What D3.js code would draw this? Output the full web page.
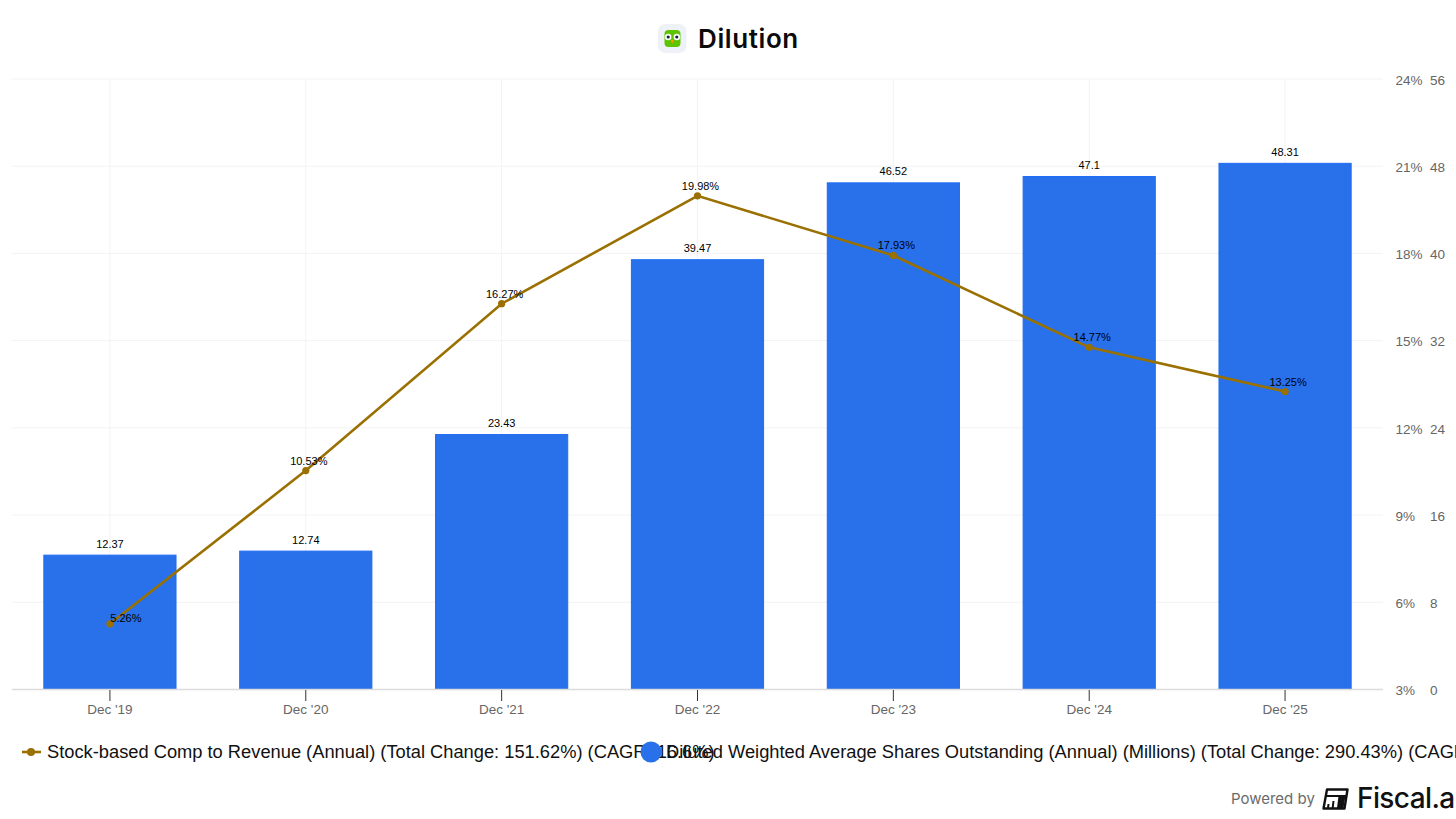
<!DOCTYPE html>
<html>
<head>
<meta charset="utf-8">
<script src="https://cdn.jsdelivr.net/npm/d3@7"></script>
<style>
html, body { margin: 0; padding: 0; background: #fff; overflow: hidden; }
</style>
</head>
<body>
<div id="vis"></div>
<script>
const categories = ["Dec '19", "Dec '20", "Dec '21", "Dec '22", "Dec '23", "Dec '24", "Dec '25"]
const shares = [12.37, 12.74, 23.43, 39.47, 46.52, 47.1, 48.31]
const sbc = [5.26, 10.53, 16.27, 19.98, 17.93, 14.77, 13.25]
const shareTicks = [0, 8, 16, 24, 32, 40, 48, 56]
const pctTicks = [3, 6, 9, 12, 15, 18, 21, 24]
const legendLine = "Stock-based Comp to Revenue (Annual) (Total Change: 151.62%) (CAGR: 16.6%)"
const legendBar = "Diluted Weighted Average Shares Outstanding (Annual) (Millions) (Total Change: 290.43%) (CAGR: 25.5%)"

const font = "'Liberation Sans', Arial, sans-serif"
const gold = "#9a7000"
const blue = "#2871eb"

let svg = d3.select("#vis").append("svg")
    .attr("width", 1456)
    .attr("height", 819)
    .attr("font-family", font)

let x = d3.scaleBand().domain(categories).range([12, 1383]).paddingInner(0.32).paddingOuter(0.16)
let yBar = d3.scaleLinear().domain([0, 56]).range([689.5, 79])
let yPct = d3.scaleLinear().domain([3, 24]).range([689.5, 79])
let cx = d => x(d) + x.bandwidth() / 2

// grid
let grid = svg.append("g").attr("stroke", "#f3f3f3").attr("stroke-width", 1)
grid.selectAll("line.h")
    .data(pctTicks.slice(1))
    .join("line")
    .attr("class", "h")
    .attr("x1", 12).attr("x2", 1383)
    .attr("y1", d => yPct(d)).attr("y2", d => yPct(d))
grid.selectAll("line.v")
    .data(categories)
    .join("line")
    .attr("class", "v")
    .attr("x1", cx).attr("x2", cx)
    .attr("y1", 79).attr("y2", 689.5)

// bars
svg.append("g").selectAll("rect")
    .data(categories)
    .join("rect")
    .attr("x", d => x(d) + 0.5)
    .attr("width", x.bandwidth() - 1)
    .attr("y", (d, i) => yBar(shares[i]) + 0.5)
    .attr("height", (d, i) => yBar(0) - yBar(shares[i]) - 0.5)
    .attr("fill", blue)
    .attr("stroke", "#1f6bf5")
    .attr("stroke-width", 1)

// x axis
svg.append("line")
    .attr("x1", 12).attr("x2", 1383)
    .attr("y1", 689.5).attr("y2", 689.5)
    .attr("stroke", "#dcdcdc")
    .attr("stroke-width", 1.5)

let xAxis = svg.append("g")
    .attr("transform", "translate(0,690)")
    .call(d3.axisBottom(x).tickSize(11).tickPadding(3))
xAxis.select(".domain").remove()
xAxis.selectAll("line").attr("stroke", "#333").attr("stroke-width", 1)
xAxis.selectAll("text")
    .attr("font-family", font)
    .attr("font-size", 13.5)
    .attr("fill", "#666")

// right axes
let pctAxis = svg.append("g")
    .attr("transform", "translate(1395.5,1)")
    .call(d3.axisRight(yPct).tickValues(pctTicks).tickFormat(d => d + "%").tickSize(0).tickPadding(0))
pctAxis.select(".domain").remove()
pctAxis.selectAll("text")
    .attr("font-family", font).attr("font-size", 13.5).attr("fill", "#666")

let barAxis = svg.append("g")
    .attr("transform", "translate(1430,1)")
    .call(d3.axisRight(yBar).tickValues(shareTicks).tickSize(0).tickPadding(0))
barAxis.select(".domain").remove()
barAxis.selectAll("text")
    .attr("font-family", font).attr("font-size", 13.5).attr("fill", "#666")

// line
let line = d3.line()
    .x((d, i) => cx(categories[i]))
    .y(d => yPct(d))

svg.append("path")
    .datum(sbc)
    .attr("d", line)
    .attr("fill", "none")
    .attr("stroke", gold)
    .attr("stroke-width", 2.6)

svg.append("g").selectAll("circle")
    .data(sbc)
    .join("circle")
    .attr("cx", (d, i) => cx(categories[i]))
    .attr("cy", d => yPct(d))
    .attr("r", 3.6)
    .attr("fill", gold)

// value labels
svg.append("g").selectAll("text")
    .data(shares)
    .join("text")
    .attr("x", (d, i) => cx(categories[i]))
    .attr("y", d => yBar(d) - 7)
    .attr("text-anchor", "middle")
    .attr("font-size", 11)
    .attr("fill", "#000")
    .text(d => d)

// first label sits beside its point, the rest above
svg.append("g").selectAll("text")
    .data(sbc)
    .join("text")
    .attr("x", (d, i) => cx(categories[i]) + (i == 0 ? 16 : 3))
    .attr("y", (d, i) => yPct(d) + (i == 0 ? -2 : -6))
    .attr("text-anchor", "middle")
    .attr("font-size", 11)
    .attr("fill", "#000")
    .text(d => d + "%")

// legend
let lg = svg.append("g").attr("font-size", 18.3).attr("fill", "#111")
lg.append("line").attr("x1", 22).attr("x2", 41).attr("y1", 752).attr("y2", 752)
    .attr("stroke", gold).attr("stroke-width", 2.6)
lg.append("circle").attr("cx", 31).attr("cy", 752).attr("r", 4).attr("fill", gold)
lg.append("text").attr("x", 47).attr("y", 758).text(legendLine)
lg.append("text").attr("x", 666).attr("y", 758).text(legendBar)
lg.append("circle").attr("cx", 651).attr("cy", 752).attr("r", 10.5).attr("fill", blue)

// title with logo
let logo = svg.append("g").attr("transform", "translate(658,24)")
logo.append("rect").attr("width", 28.5).attr("height", 29).attr("rx", 7).attr("fill", "#eef2f8")
logo.append("rect").attr("x", 6.5).attr("y", 6).attr("width", 16).attr("height", 17).attr("rx", 4).attr("fill", "#5fc400")
logo.selectAll("circle.eye").data([10.2, 18.8]).join("circle")
    .attr("class", "eye").attr("cx", d => d).attr("cy", 13).attr("r", 3.2).attr("fill", "#fff")
logo.selectAll("circle.pupil").data([10.2, 18.8]).join("circle")
    .attr("class", "pupil").attr("cx", d => d).attr("cy", 13).attr("r", 1.6).attr("fill", "#123")
logo.append("path").attr("d", "M12.7 16h3.2l-1.6 3.5z").attr("fill", "#f5a000")

svg.append("text")
    .attr("x", 698).attr("y", 48)
    .attr("font-family", "Inter, sans-serif")
    .attr("font-size", 26)
    .attr("font-weight", 600)
    .attr("letter-spacing", 0.6)
    .attr("fill", "#0b0b0b")
    .text("Dilution")

// footer
svg.append("text")
    .attr("x", 1231).attr("y", 804)
    .attr("font-family", "Inter, sans-serif")
    .attr("font-size", 15)
    .attr("fill", "#6b6b6b")
    .text("Powered by")

let mark = svg.append("g").attr("transform", "translate(1322,788)")
mark.append("path")
    .attr("d", "M5 1.5H25.5L22.5 20.5H1.5Z")
    .attr("fill", "#fff")
    .attr("stroke", "#111")
    .attr("stroke-width", 2.4)
    .attr("stroke-linejoin", "round")
mark.append("path").attr("d", "M3.5 7H24.5V9H3.2Z").attr("fill", "#111")
mark.append("path").attr("d", "M16.5 8H23.5L21.5 20H15Z").attr("fill", "#111")
mark.append("path").attr("d", "M10.5 13H12.5L11.7 20H9.7ZM5.5 16H7.5L7 20H5Z").attr("fill", "#111")

svg.append("text")
    .attr("x", 1357).attr("y", 808)
    .attr("font-family", "Inter, sans-serif")
    .attr("font-size", 28)
    .attr("font-weight", 500)
    .attr("letter-spacing", -0.6)
    .attr("fill", "#111")
    .text("Fiscal.a")
</script>
</body>
</html>
